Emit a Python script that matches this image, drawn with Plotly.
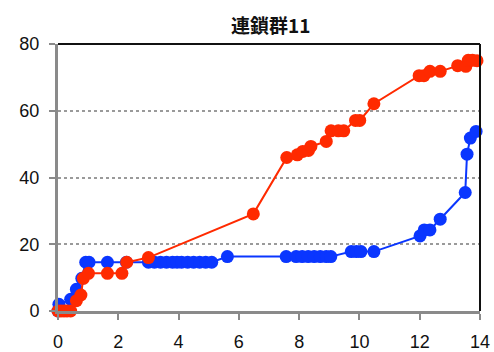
import plotly.graph_objects as go

# Linkage group 11: cumulative positions of the two maps
blue_x = [0.0, 0.03, 0.42, 0.61, 0.79, 0.92, 1.03, 1.64, 2.27,
          3.0, 3.2, 3.4, 3.6, 3.8, 3.95, 4.1, 4.3, 4.5, 4.7, 4.9, 5.1,
          5.62, 7.57, 7.9, 8.1, 8.3, 8.5, 8.7, 8.9, 9.05,
          9.73, 9.9, 10.05, 10.48, 12.01, 12.15, 12.34, 12.68, 13.51,
          13.57, 13.68, 13.87]
blue_y = [0.0, 2.0, 3.5, 6.5, 9.8, 14.6, 14.6, 14.6, 14.6,
          14.6, 14.6, 14.6, 14.6, 14.6, 14.6, 14.6, 14.6, 14.6, 14.6, 14.6, 14.6,
          16.3, 16.3, 16.3, 16.3, 16.3, 16.3, 16.3, 16.3, 16.3,
          17.8, 17.8, 17.8, 17.8, 22.5, 24.3, 24.3, 27.5, 35.5,
          47.0, 51.8, 53.8]

red_x = [0.0, 0.1, 0.2, 0.3, 0.42, 0.61, 0.76, 0.84, 1.01, 1.64, 2.12,
         2.28, 3.0, 6.48, 7.59, 7.94, 8.12, 8.31, 8.39, 8.9, 9.06, 9.3,
         9.48, 9.87, 10.01, 10.48, 11.98, 12.14, 12.34, 12.68, 13.26,
         13.53, 13.61, 13.75, 13.9]
red_y = [0.0, 0.0, 0.0, 0.0, 0.0, 3.1, 4.8, 9.8, 11.3, 11.3, 11.3,
         14.6, 16.0, 29.1, 46.0, 46.8, 47.8, 48.1, 49.3, 50.8, 54.0, 54.0,
         54.0, 57.1, 57.1, 62.1, 70.5, 70.5, 71.8, 71.8, 73.5,
         73.3, 75.1, 75.1, 75.0]

x_ticks = [0, 2, 4, 6, 8, 10, 12, 14]
y_ticks = [0, 20, 40, 60, 80]

BLUE = "#0a36ff"
RED = "#ff2a00"

fig = go.Figure()
fig.add_trace(go.Scatter(x=blue_x, y=blue_y, mode="lines+markers",
                         line=dict(color=BLUE, width=2),
                         marker=dict(color=BLUE, size=13), cliponaxis=False))
fig.add_trace(go.Scatter(x=red_x, y=red_y, mode="lines+markers",
                         line=dict(color=RED, width=2),
                         marker=dict(color=RED, size=13), cliponaxis=False))

axis_font = dict(family="Liberation Sans, Arial, sans-serif", size=18, color="#111")

fig.update_layout(
    width=494, height=352,
    margin=dict(l=58, r=14, t=44, b=41, autoexpand=False),
    paper_bgcolor="white", plot_bgcolor="white",
    showlegend=False,
    title=dict(text="<b>連鎖群11</b>", x=0.548, xanchor="center",
               y=0.925, yanchor="middle",
               font=dict(family="Noto Sans CJK JP", size=19, color="#111")),
    xaxis=dict(range=[0, 14], tickvals=x_ticks, ticks="outside", ticklen=6,
               tickwidth=2, tickcolor="#8a8a8a", showline=True, linecolor="#8a8a8a",
               linewidth=3, showgrid=False, zeroline=False, tickfont=axis_font,
               automargin=False, ticklabelstandoff=6),
    yaxis=dict(range=[0, 80], tickvals=y_ticks, ticks="outside", ticklen=6,
               tickwidth=2, tickcolor="#8a8a8a", showline=True, linecolor="#8a8a8a",
               linewidth=3, showgrid=True, gridcolor="#9a9a9a", gridwidth=2,
               griddash="dot", zeroline=False, tickfont=axis_font,
               automargin=False, ticklabelstandoff=6),
    shapes=[
        dict(type="line", xref="paper", yref="paper", x0=0, x1=1, y0=1, y1=1,
             line=dict(color="#111", width=2)),
        dict(type="line", xref="paper", yref="paper", x0=1, x1=1, y0=0, y1=1,
             line=dict(color="#111", width=2)),
    ],
)

fig.write_html("out.html")
